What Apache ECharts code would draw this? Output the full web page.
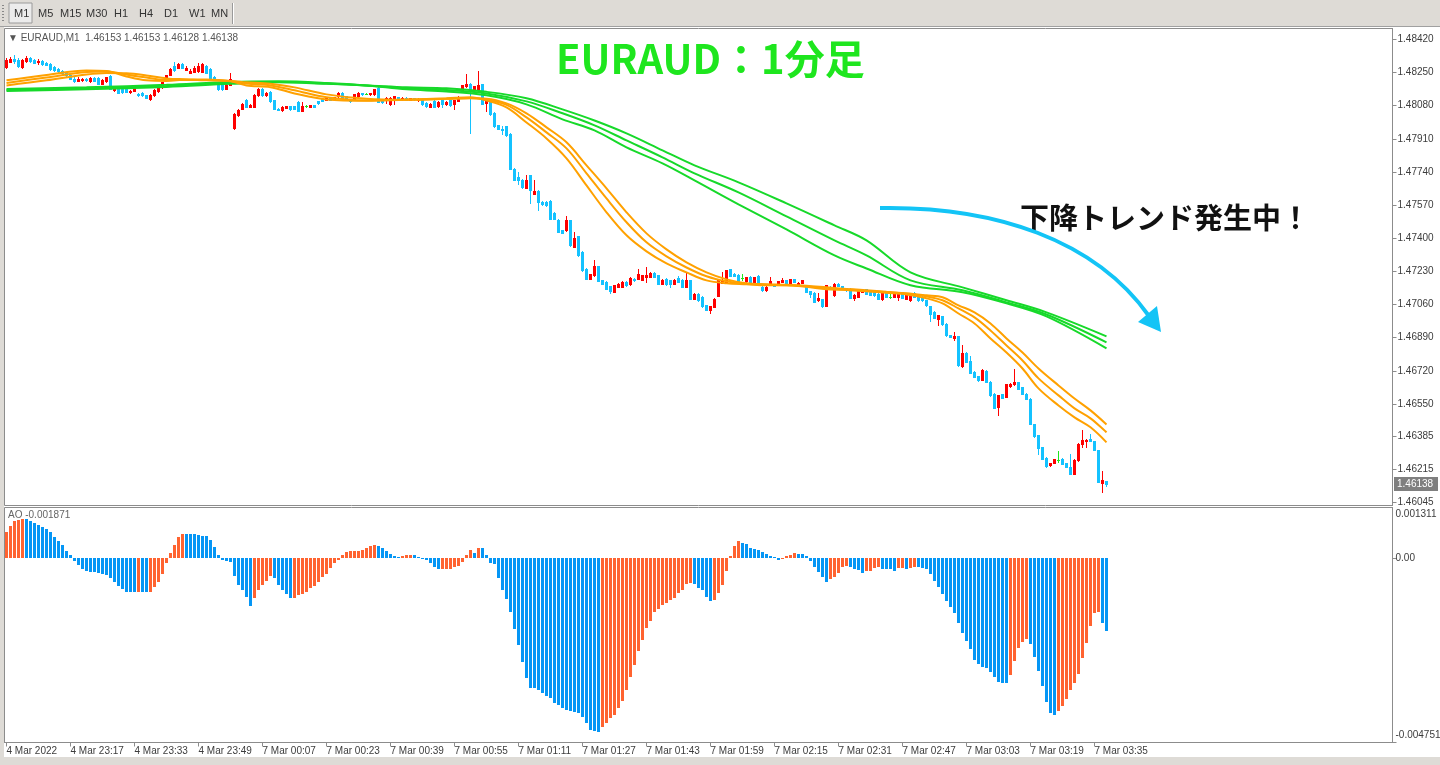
<!DOCTYPE html>
<html><head><meta charset="utf-8">
<script src="https://cdn.jsdelivr.net/npm/echarts@6/dist/echarts.min.js"></script>
<style>html,body{margin:0;padding:0;background:#fff;overflow:hidden}#c{width:1440px;height:765px}</style>
</head><body><div id="c"></div>
<script>
// ---------- DATA ----------
const symbolName = 'EURAUD,M1';
const sessionDays = ['4 Mar', '7 Mar'];
const sessionStartMinutes = [1381, 0];   // 23:01 and 00:00
const sessionBarCounts = [57, 219];
const firstDateLabel = '4 Mar 2022';

const opens = [
1.48278,1.48304,1.48317,1.48312,1.48278,1.48307,1.48324,1.48312,1.48304,1.48307,
1.48300,1.48292,1.48278,1.48266,1.48256,1.48246,1.48235,1.48218,1.48208,1.48210,
1.48218,1.48205,1.48222,1.48222,1.48191,1.48205,1.48232,1.48159,1.48176,1.48169,
1.48174,1.48150,1.48155,1.48141,1.48145,1.48133,1.48116,1.48133,1.48153,1.48174,
1.48210,1.48239,1.48283,1.48273,1.48292,1.48264,1.48249,1.48252,1.48256,1.48252,
1.48283,1.48270,1.48227,1.48193,1.48188,1.48167,1.48188,1.47965,1.48030,1.48064,
1.48107,1.48073,1.48073,1.48133,1.48167,1.48133,1.48150,1.48107,1.48064,1.48056,
1.48068,1.48077,1.48077,1.48099,1.48053,1.48077,1.48073,1.48082,1.48102,1.48116,
1.48111,1.48121,1.48112,1.48128,1.48147,1.48128,1.48111,1.48111,1.48128,1.48145,
1.48142,1.48138,1.48138,1.48172,1.48107,1.48107,1.48087,1.48116,1.48123,1.48112,
1.48120,1.48110,1.48118,1.48107,1.48107,1.48093,1.48073,1.48104,1.48077,1.48107,
1.48087,1.48107,1.48090,1.48104,1.48162,1.48179,1.48193,1.48159,1.48159,1.48189,
1.48093,1.48104,1.48042,1.47979,1.47962,1.47974,1.47936,1.47757,1.47714,1.47701,
1.47659,1.47722,1.47628,1.47642,1.47585,1.47585,1.47590,1.47528,1.47495,1.47440,
1.47440,1.47492,1.47355,1.47409,1.47329,1.47244,1.47193,1.47210,1.47256,1.47184,
1.47175,1.47153,1.47124,1.47150,1.47150,1.47175,1.47164,1.47193,1.47193,1.47188,
1.47202,1.47202,1.47222,1.47210,1.47167,1.47193,1.47184,1.47167,1.47198,1.47188,
1.47150,1.47184,1.47090,1.47115,1.47098,1.47056,1.47034,1.47047,1.47103,1.47172,
1.47175,1.47240,1.47218,1.47213,1.47196,1.47179,1.47201,1.47175,1.47206,1.47150,
1.47133,1.47162,1.47162,1.47172,1.47175,1.47184,1.47172,1.47189,1.47162,1.47172,
1.47155,1.47128,1.47121,1.47082,1.47086,1.47052,1.47150,1.47107,1.47167,1.47155,
1.47143,1.47141,1.47093,1.47098,1.47124,1.47138,1.47128,1.47128,1.47115,1.47090,
1.47128,1.47099,1.47099,1.47099,1.47124,1.47090,1.47082,1.47121,1.47110,1.47099,
1.47082,1.47051,1.47021,1.46987,1.47000,1.46962,1.46902,1.46890,1.46897,1.46743,
1.46811,1.46768,1.46713,1.46691,1.46674,1.46719,1.46665,1.46603,1.46534,1.46599,
1.46585,1.46640,1.46650,1.46662,1.46636,1.46603,1.46577,1.46445,1.46389,1.46329,
1.46274,1.46235,1.46247,1.46261,1.46269,1.46247,1.46226,1.46192,1.46261,1.46343,
1.46358,1.46372,1.46359,1.46312,1.46144,1.46153];

const closes = [
1.48312,1.48321,1.48309,1.48283,1.48312,1.48324,1.48307,1.48300,1.48309,1.48292,
1.48290,1.48266,1.48261,1.48256,1.48246,1.48235,1.48218,1.48205,1.48218,1.48218,
1.48211,1.48222,1.48208,1.48193,1.48211,1.48225,1.48167,1.48176,1.48145,1.48148,
1.48150,1.48155,1.48165,1.48133,1.48133,1.48121,1.48136,1.48162,1.48176,1.48200,
1.48235,1.48270,1.48261,1.48295,1.48275,1.48271,1.48260,1.48273,1.48283,1.48292,
1.48249,1.48218,1.48213,1.48164,1.48167,1.48188,1.48218,1.48039,1.48056,1.48090,
1.48073,1.48085,1.48136,1.48167,1.48133,1.48147,1.48102,1.48064,1.48059,1.48073,
1.48077,1.48061,1.48063,1.48053,1.48077,1.48077,1.48082,1.48073,1.48092,1.48104,
1.48121,1.48111,1.48123,1.48145,1.48121,1.48111,1.48104,1.48138,1.48145,1.48138,
1.48142,1.48145,1.48164,1.48098,1.48097,1.48118,1.48119,1.48128,1.48115,1.48120,
1.48110,1.48118,1.48112,1.48115,1.48087,1.48077,1.48090,1.48073,1.48099,1.48087,
1.48099,1.48082,1.48107,1.48124,1.48184,1.48193,1.48159,1.48179,1.48184,1.48090,
1.48104,1.48035,1.47974,1.47962,1.47957,1.47928,1.47757,1.47701,1.47701,1.47663,
1.47701,1.47649,1.47642,1.47585,1.47574,1.47569,1.47500,1.47500,1.47431,1.47426,
1.47492,1.47364,1.47403,1.47312,1.47236,1.47193,1.47215,1.47256,1.47180,1.47167,
1.47141,1.47129,1.47159,1.47164,1.47175,1.47159,1.47198,1.47184,1.47218,1.47210,
1.47210,1.47222,1.47202,1.47167,1.47188,1.47164,1.47164,1.47188,1.47175,1.47150,
1.47188,1.47090,1.47115,1.47082,1.47051,1.47034,1.47051,1.47090,1.47184,1.47179,
1.47236,1.47206,1.47206,1.47179,1.47196,1.47201,1.47175,1.47201,1.47175,1.47133,
1.47150,1.47179,1.47155,1.47179,1.47184,1.47172,1.47189,1.47175,1.47172,1.47184,
1.47124,1.47115,1.47073,1.47094,1.47052,1.47159,1.47145,1.47167,1.47155,1.47141,
1.47133,1.47093,1.47110,1.47133,1.47138,1.47115,1.47110,1.47107,1.47090,1.47121,
1.47099,1.47099,1.47115,1.47115,1.47093,1.47107,1.47110,1.47099,1.47082,1.47082,
1.47056,1.47013,1.46992,1.47005,1.46958,1.46902,1.46893,1.46897,1.46748,1.46811,
1.46765,1.46708,1.46688,1.46671,1.46723,1.46662,1.46594,1.46531,1.46594,1.46582,
1.46650,1.46654,1.46662,1.46628,1.46603,1.46577,1.46449,1.46384,1.46326,1.46269,
1.46230,1.46247,1.46266,1.46261,1.46243,1.46226,1.46192,1.46264,1.46346,1.46367,
1.46367,1.46359,1.46315,1.46149,1.46158,1.46138];

const lows = [
1.48274,1.48302,1.48297,1.48280,1.48274,1.48302,1.48302,1.48297,1.48292,1.48287,
1.48287,1.48261,1.48256,1.48251,1.48240,1.48230,1.48215,1.48200,1.48205,1.48205,
1.48207,1.48202,1.48205,1.48189,1.48189,1.48202,1.48164,1.48156,1.48143,1.48146,
1.48148,1.48146,1.48153,1.48130,1.48128,1.48118,1.48107,1.48130,1.48151,1.48171,
1.48207,1.48235,1.48258,1.48271,1.48271,1.48261,1.48248,1.48251,1.48253,1.48251,
1.48246,1.48215,1.48210,1.48159,1.48159,1.48164,1.48184,1.47963,1.48025,1.48061,
1.48071,1.48071,1.48071,1.48130,1.48130,1.48130,1.48097,1.48061,1.48056,1.48053,
1.48066,1.48056,1.48061,1.48051,1.48051,1.48071,1.48071,1.48071,1.48089,1.48102,
1.48107,1.48107,1.48110,1.48125,1.48118,1.48107,1.48100,1.48107,1.48125,1.48136,
1.48138,1.48136,1.48136,1.48097,1.48094,1.48092,1.48084,1.48087,1.48112,1.48110,
1.48107,1.48107,1.48110,1.48105,1.48084,1.48071,1.48071,1.48071,1.48074,1.48073,
1.48084,1.48079,1.48064,1.48102,1.48161,1.48176,1.47939,1.48156,1.48156,1.48087,
1.48053,1.48033,1.47971,1.47958,1.47933,1.47925,1.47754,1.47697,1.47680,1.47658,
1.47656,1.47580,1.47625,1.47543,1.47569,1.47564,1.47497,1.47497,1.47430,1.47425,
1.47438,1.47361,1.47353,1.47310,1.47233,1.47189,1.47189,1.47207,1.47179,1.47164,
1.47138,1.47117,1.47123,1.47148,1.47148,1.47156,1.47161,1.47182,1.47192,1.47187,
1.47175,1.47200,1.47200,1.47166,1.47166,1.47161,1.47148,1.47166,1.47174,1.47148,
1.47148,1.47089,1.47089,1.47079,1.47048,1.47030,1.47015,1.47046,1.47102,1.47171,
1.47174,1.47205,1.47205,1.47176,1.47184,1.47176,1.47174,1.47174,1.47174,1.47130,
1.47130,1.47159,1.47153,1.47169,1.47174,1.47169,1.47169,1.47174,1.47159,1.47171,
1.47123,1.47097,1.47071,1.47079,1.47048,1.47051,1.47143,1.47104,1.47153,1.47140,
1.47130,1.47092,1.47084,1.47097,1.47123,1.47114,1.47109,1.47104,1.47089,1.47082,
1.47097,1.47092,1.47097,1.47082,1.47092,1.47089,1.47079,1.47097,1.47079,1.47079,
1.47051,1.46975,1.46989,1.46953,1.46956,1.46899,1.46892,1.46879,1.46743,1.46740,
1.46764,1.46707,1.46686,1.46668,1.46671,1.46661,1.46591,1.46530,1.46492,1.46581,
1.46584,1.46637,1.46647,1.46627,1.46602,1.46576,1.46448,1.46382,1.46291,1.46268,
1.46227,1.46232,1.46245,1.46252,1.46242,1.46225,1.46191,1.46191,1.46258,1.46328,
1.46328,1.46358,1.46314,1.46148,1.46098,1.46128];

const highs = [
1.48323,1.48330,1.48338,1.48323,1.48317,1.48333,1.48330,1.48317,1.48317,1.48312,
1.48305,1.48297,1.48282,1.48271,1.48261,1.48251,1.48240,1.48225,1.48225,1.48220,
1.48222,1.48225,1.48225,1.48225,1.48215,1.48228,1.48235,1.48179,1.48179,1.48171,
1.48176,1.48159,1.48169,1.48143,1.48148,1.48135,1.48138,1.48164,1.48179,1.48202,
1.48238,1.48274,1.48304,1.48300,1.48297,1.48282,1.48266,1.48282,1.48300,1.48297,
1.48287,1.48271,1.48230,1.48194,1.48189,1.48189,1.48246,1.48041,1.48061,1.48092,
1.48112,1.48087,1.48138,1.48169,1.48169,1.48148,1.48153,1.48110,1.48066,1.48077,
1.48079,1.48079,1.48079,1.48102,1.48099,1.48082,1.48084,1.48084,1.48105,1.48118,
1.48123,1.48123,1.48125,1.48148,1.48151,1.48131,1.48112,1.48141,1.48148,1.48147,
1.48145,1.48147,1.48166,1.48174,1.48110,1.48123,1.48123,1.48131,1.48125,1.48123,
1.48123,1.48120,1.48120,1.48118,1.48110,1.48097,1.48092,1.48107,1.48102,1.48110,
1.48102,1.48110,1.48110,1.48128,1.48187,1.48241,1.48194,1.48182,1.48256,1.48192,
1.48107,1.48107,1.48046,1.47981,1.47974,1.47977,1.47938,1.47758,1.47739,1.47702,
1.47727,1.47725,1.47697,1.47646,1.47589,1.47589,1.47594,1.47533,1.47497,1.47443,
1.47512,1.47494,1.47431,1.47412,1.47333,1.47246,1.47217,1.47290,1.47258,1.47187,
1.47179,1.47156,1.47161,1.47169,1.47179,1.47179,1.47200,1.47195,1.47244,1.47213,
1.47251,1.47225,1.47225,1.47213,1.47189,1.47195,1.47187,1.47189,1.47205,1.47189,
1.47227,1.47187,1.47118,1.47118,1.47102,1.47059,1.47053,1.47092,1.47187,1.47227,
1.47238,1.47244,1.47220,1.47215,1.47217,1.47202,1.47205,1.47202,1.47210,1.47153,
1.47153,1.47200,1.47164,1.47181,1.47195,1.47187,1.47192,1.47192,1.47174,1.47187,
1.47159,1.47131,1.47123,1.47118,1.47089,1.47161,1.47153,1.47169,1.47169,1.47156,
1.47145,1.47143,1.47112,1.47135,1.47140,1.47140,1.47131,1.47131,1.47118,1.47123,
1.47131,1.47118,1.47118,1.47118,1.47125,1.47110,1.47112,1.47123,1.47112,1.47102,
1.47084,1.47053,1.47025,1.47007,1.47002,1.46963,1.46904,1.46919,1.46899,1.46851,
1.46815,1.46794,1.46717,1.46694,1.46728,1.46723,1.46668,1.46604,1.46597,1.46602,
1.46653,1.46658,1.46727,1.46663,1.46637,1.46604,1.46579,1.46448,1.46391,1.46330,
1.46276,1.46248,1.46268,1.46308,1.46271,1.46248,1.46295,1.46266,1.46348,1.46418,
1.46370,1.46394,1.46361,1.46315,1.46204,1.46153];

const aoValues = [
0.000668,0.000839,0.000950,0.000993,0.001027,0.001019,0.000967,0.000899,0.000865,0.000813,
0.000753,0.000668,0.000556,0.000454,0.000342,0.000197,0.000094,-0.000060,-0.000163,-0.000265,
-0.000317,-0.000342,-0.000347,-0.000385,-0.000394,-0.000419,-0.000514,-0.000616,-0.000702,-0.000788,
-0.000856,-0.000860,-0.000873,-0.000856,-0.000873,-0.000877,-0.000856,-0.000745,-0.000616,-0.000402,
-0.000128,0.000128,0.000351,0.000539,0.000633,0.000631,0.000628,0.000625,0.000599,0.000582,
0.000565,0.000462,0.000300,0.000086,-0.000034,-0.000068,-0.000086,-0.000445,-0.000676,-0.000830,
-0.001002,-0.001233,-0.001027,-0.000830,-0.000676,-0.000574,-0.000462,-0.000514,-0.000676,-0.000805,
-0.000933,-0.001027,-0.001023,-0.000959,-0.000916,-0.000856,-0.000770,-0.000702,-0.000599,-0.000488,
-0.000402,-0.000257,-0.000128,-0.000034,0.000094,0.000154,0.000180,0.000181,0.000184,0.000205,
0.000257,0.000308,0.000351,0.000325,0.000257,0.000180,0.000111,0.000068,0.000043,0.000068,
0.000094,0.000098,0.000094,0.000043,0.000009,-0.000043,-0.000120,-0.000214,-0.000283,-0.000278,
-0.000274,-0.000265,-0.000231,-0.000188,-0.000086,0.000094,0.000223,0.000146,0.000265,0.000260,
0.000094,-0.000120,-0.000154,-0.000514,-0.000830,-0.001061,-0.001387,-0.001832,-0.002243,-0.002671,
-0.003082,-0.003338,-0.003343,-0.003398,-0.003467,-0.003544,-0.003612,-0.003732,-0.003784,-0.003852,
-0.003903,-0.003929,-0.003955,-0.003981,-0.004083,-0.004237,-0.004426,-0.004443,-0.004468,-0.004340,
-0.004237,-0.004109,-0.004040,-0.003852,-0.003672,-0.003390,-0.003056,-0.002739,-0.002388,-0.002106,
-0.001798,-0.001618,-0.001387,-0.001310,-0.001198,-0.001156,-0.001070,-0.001027,-0.000899,-0.000805,
-0.000668,-0.000642,-0.000668,-0.000770,-0.000830,-0.001002,-0.001113,-0.001079,-0.000899,-0.000676,
-0.000334,0.000068,0.000325,0.000437,0.000394,0.000368,0.000274,0.000240,0.000223,0.000171,
0.000111,0.000068,0.000026,-0.000043,0.000017,0.000068,0.000094,0.000146,0.000120,0.000116,
0.000068,-0.000077,-0.000214,-0.000342,-0.000488,-0.000599,-0.000539,-0.000488,-0.000368,-0.000231,
-0.000188,-0.000214,-0.000265,-0.000308,-0.000368,-0.000334,-0.000317,-0.000240,-0.000231,-0.000265,
-0.000283,-0.000287,-0.000317,-0.000257,-0.000240,-0.000283,-0.000257,-0.000214,-0.000218,-0.000240,
-0.000265,-0.000394,-0.000574,-0.000745,-0.000908,-0.001113,-0.001267,-0.001421,-0.001678,-0.001926,
-0.002132,-0.002345,-0.002628,-0.002731,-0.002799,-0.002833,-0.002936,-0.003065,-0.003193,-0.003219,
-0.003223,-0.003013,-0.002645,-0.002320,-0.002157,-0.002089,-0.002217,-0.002551,-0.002902,-0.003296,
-0.003707,-0.003981,-0.004040,-0.003938,-0.003809,-0.003621,-0.003398,-0.003219,-0.002987,-0.002577,
-0.002183,-0.001755,-0.001412,-0.001387,-0.001669,-0.001871];

// moving averages read at sample bars
const orangeIdx = [0,10,20,25,30,35,40,45,50,56,60,66,72,80,90,100,110,116,120,125,130,135,140,145,150,155,160,165,170,175,180,185,190,195,200,205,210,215,220,225,230,234,238,242,246,250,254,258,263,267,271,275];
const orangeFast = [1.48210,1.48238,1.48261,1.48258,1.48230,1.48210,1.48207,1.48215,1.48215,1.48205,1.48184,1.48175,1.48143,1.48112,1.48105,1.48112,1.48118,1.48123,1.48107,1.48071,1.47994,1.47912,1.47810,1.47671,1.47533,1.47415,1.47333,1.47271,1.47225,1.47184,1.47169,1.47164,1.47159,1.47159,1.47151,1.47138,1.47135,1.47128,1.47120,1.47112,1.47092,1.47066,1.47014,1.46963,1.46886,1.46814,1.46732,1.46630,1.46542,1.46481,1.46430,1.46353];
const orangeMid = [1.48197,1.48225,1.48253,1.48256,1.48240,1.48225,1.48212,1.48212,1.48212,1.48207,1.48194,1.48184,1.48159,1.48123,1.48107,1.48110,1.48115,1.48120,1.48112,1.48084,1.48020,1.47943,1.47861,1.47733,1.47604,1.47482,1.47379,1.47307,1.47250,1.47205,1.47179,1.47166,1.47161,1.47159,1.47153,1.47143,1.47138,1.47130,1.47123,1.47115,1.47102,1.47082,1.47040,1.46994,1.46927,1.46850,1.46773,1.46681,1.46594,1.46527,1.46476,1.46404];
const orangeSlow = [1.48184,1.48210,1.48240,1.48248,1.48246,1.48235,1.48220,1.48215,1.48210,1.48207,1.48200,1.48193,1.48174,1.48138,1.48115,1.48110,1.48115,1.48118,1.48116,1.48092,1.48041,1.47969,1.47892,1.47774,1.47656,1.47533,1.47425,1.47343,1.47276,1.47225,1.47189,1.47169,1.47164,1.47161,1.47156,1.47148,1.47140,1.47133,1.47125,1.47118,1.47107,1.47097,1.47056,1.47020,1.46963,1.46886,1.46814,1.46732,1.46645,1.46578,1.46517,1.46445];
const greenIdx = [0,20,40,56,68,80,90,100,110,120,130,139,147,155,164,172,183,195,207,215,226,239,250,260,275];
const greenFast = [1.48166,1.48174,1.48187,1.48202,1.48205,1.48197,1.48184,1.48164,1.48153,1.48133,1.48087,1.48010,1.47953,1.47866,1.47784,1.47697,1.47574,1.47445,1.47312,1.47245,1.47159,1.47123,1.47066,1.46999,1.46835];
const greenMid = [1.48161,1.48169,1.48181,1.48197,1.48202,1.48194,1.48184,1.48169,1.48161,1.48143,1.48102,1.48041,1.47979,1.47902,1.47815,1.47733,1.47635,1.47512,1.47389,1.47312,1.47184,1.47133,1.47071,1.47009,1.46866];
const greenSlow = [1.48156,1.48164,1.48176,1.48192,1.48200,1.48192,1.48184,1.48174,1.48169,1.48151,1.48118,1.48061,1.48004,1.47938,1.47851,1.47774,1.47687,1.47579,1.47466,1.47389,1.47225,1.47148,1.47082,1.47020,1.46897];

const priceTickLabels = ['1.48420','1.48250','1.48080','1.47910','1.47740','1.47570','1.47400','1.47230','1.47060','1.46890','1.46720','1.46550','1.46385','1.46215','1.46045'];
const aoTickLabels = ['0.001311','0.00','-0.004751'];
const periodButtons = ['M1','M5','M15','M30','H1','H4','D1','W1','MN'];
const titleText = 'EURAUD：1分足';
const noteText = '下降トレンド発生中！';

// ---------- VIEW ----------
const SLOTS = 347;
const PRICE_MAX = 1.48476, PRICE_MIN = 1.46029;
const AO_MAX = 0.001311, AO_MIN = -0.004751;
const C_UP = '#ff0000', C_DN = '#14c2ff', C_DOJI = '#1ee61e';
const C_ORANGE = '#ffa100', C_GREEN = '#17d92a';
const AO_UP = '#ff6330', AO_DN = '#0596f5';
const AXIS_C = '#8c8c8c', TXT_C = '#3c3c3c';
const FONT = '"Liberation Sans", Arial, sans-serif';

const N = closes.length;
const pad2 = n => String(n).padStart(2, '0');
const categories = [];
sessionDays.forEach((d, s) => {
  for (let k = 0; k < sessionBarCounts[s]; k++) {
    const m = sessionStartMinutes[s] + k;
    categories.push(d + ' ' + pad2(Math.floor(m / 60)) + ':' + pad2(m % 60));
  }
});
while (categories.length < SLOTS) categories.push('_' + categories.length);

const candleData = opens.map((o, i) => [i, o, closes[i], lows[i], highs[i]]);
const aoData = aoValues.map((v, i) => [i, v, (i === 0 || v >= aoValues[i - 1]) ? 1 : 0]);
const pairs = (idx, vals) => idx.map((x, k) => [x, vals[k]]);
const priceTickValues = priceTickLabels.map(Number);
const aoPxPerUnit = 235 / (AO_MAX - AO_MIN);
const aoLabelSpots = [AO_MAX - 7 / aoPxPerUnit, 0, AO_MIN + 7 / aoPxPerUnit];
const last = N - 1;
const hdr = symbolName + '  ' + [opens[last], highs[last], lows[last], closes[last]].map(v => v.toFixed(5)).join(' ');

function renderCandle(params, api) {
  const i = api.value(0), o = api.value(1), c = api.value(2), l = api.value(3), h = api.value(4);
  const po = api.coord([i, o]), pc = api.coord([i, c]), pl = api.coord([i, l]), ph = api.coord([i, h]);
  const cx = Math.floor(po[0]);
  const col = c > o ? C_UP : (c < o ? C_DN : C_DOJI);
  const yt = Math.round(Math.min(po[1], pc[1])), yb = Math.round(Math.max(po[1], pc[1]));
  const yh = Math.round(ph[1]), yl = Math.round(pl[1]);
  return { type: 'group', children: [
    { type: 'rect', shape: { x: cx, y: yh, width: 1, height: Math.max(1, yl - yh + 1) }, style: { fill: col } },
    { type: 'rect', shape: { x: cx - 1, y: yt, width: 3, height: Math.max(1, yb - yt + 1) }, style: { fill: col } }
  ] };
}
function renderAO(params, api) {
  const i = api.value(0), v = api.value(1), up = api.value(2);
  const p0 = api.coord([i, 0]), p1 = api.coord([i, v]);
  const cx = Math.floor(p0[0]);
  const y0 = Math.round(p0[1]), y1 = Math.round(p1[1]);
  return { type: 'rect', shape: { x: cx - 1, y: Math.min(y0, y1), width: 3, height: Math.max(1, Math.abs(y1 - y0)) },
    style: { fill: up ? AO_UP : AO_DN } };
}
function maLine(name, idx, vals, color, z) {
  return {
    name, type: 'line', xAxisIndex: 0, yAxisIndex: 0, data: pairs(idx, vals),
    showSymbol: false, smooth: 0.35, silent: true, z,
    lineStyle: { color, width: 2 }
  };
}

const toolbarEls = [
  { type: 'rect', shape: { x: 0, y: 0, width: 1440, height: 27 }, style: { fill: '#dedbd6' }, silent: true },
  { type: 'rect', shape: { x: 0, y: 26, width: 1440, height: 1 }, style: { fill: '#a0a0a0' }, silent: true },
  { type: 'rect', shape: { x: 0, y: 27, width: 4, height: 738 }, style: { fill: '#dedbd6' }, silent: true },
  { type: 'rect', shape: { x: 0, y: 757, width: 1440, height: 8 }, style: { fill: '#dedbd6' }, silent: true },
  { type: 'rect', shape: { x: 9, y: 3, width: 23, height: 20 }, style: { fill: '#ececec', stroke: '#9a9a9a', lineWidth: 1 }, silent: true },
  { type: 'rect', shape: { x: 232, y: 3, width: 1, height: 21 }, style: { fill: '#9a9a9a' }, silent: true },
  { type: 'rect', shape: { x: 233, y: 3, width: 1, height: 21 }, style: { fill: '#ffffff' }, silent: true }
];
for (let k = 0; k < 6; k++) {
  toolbarEls.push({ type: 'rect', shape: { x: 2, y: 5 + k * 3, width: 2, height: 1 }, style: { fill: '#888' }, silent: true });
}
const btnX = [14, 38, 60, 86, 114, 139, 164, 189, 211];
periodButtons.forEach((b, k) => {
  toolbarEls.push({ type: 'text', x: btnX[k], y: 14, style: { text: b, fill: '#333', font: '11px ' + FONT, verticalAlign: 'middle' }, silent: true });
});

const baseGraphics = toolbarEls.concat([
  { type: 'text', x: 8, y: 38, style: { text: '▼ ' + hdr, fill: '#555', font: '10px ' + FONT, verticalAlign: 'middle' }, silent: true },
  { type: 'text', x: 8, y: 515, style: { text: 'AO ' + aoValues[last].toFixed(6), fill: '#666', font: '10px ' + FONT, verticalAlign: 'middle' }, silent: true },
  { type: 'text', x: 556, y: 59, style: { text: titleText, fill: '#1ee61e', font: 'bold 40px "Noto Sans CJK JP", sans-serif', verticalAlign: 'middle' }, silent: true },
  { type: 'text', x: 1020, y: 218, style: { text: noteText, fill: '#111', font: 'bold 29px "Noto Sans CJK JP", sans-serif', verticalAlign: 'middle' }, silent: true },
  { type: 'bezierCurve', shape: { x1: 880, y1: 208, cpx1: 995, cpy1: 206, cpx2: 1095, cpy2: 240, x2: 1149, y2: 316 },
    style: { stroke: '#13c4f6', lineWidth: 4, fill: null }, silent: true },
  { type: 'polygon', shape: { points: [[1161, 332], [1138, 322], [1157, 306]] }, style: { fill: '#13c4f6' }, silent: true }
]);

const option = {
  animation: false,
  backgroundColor: '#ffffff',
  grid: [
    { left: 4.5, top: 28.5, width: 1388, height: 477, show: true, borderColor: AXIS_C, borderWidth: 1, backgroundColor: '#fff', outerBoundsMode: 'none', containLabel: false },
    { left: 4.5, top: 507.5, width: 1388, height: 235, show: true, borderColor: AXIS_C, borderWidth: 1, backgroundColor: '#fff', outerBoundsMode: 'none', containLabel: false }
  ],
  xAxis: [
    { type: 'category', gridIndex: 0, data: categories, boundaryGap: true,
      axisLine: { show: false }, axisTick: { show: false }, axisLabel: { show: false }, splitLine: { show: false } },
    { type: 'category', gridIndex: 1, data: categories, boundaryGap: true, position: 'bottom',
      axisLine: { show: true, onZero: false, lineStyle: { color: AXIS_C } },
      axisTick: { show: true, alignWithLabel: true, length: 4, interval: i => i < N && i % 16 === 0, lineStyle: { color: AXIS_C } },
      axisLabel: { show: true, interval: i => i < N && i % 16 === 0, align: 'left', margin: 4,
        formatter: (v, i) => i === 0 ? firstDateLabel : v, color: TXT_C, fontSize: 10, fontFamily: FONT },
      splitLine: { show: false } }
  ],
  yAxis: [
    { type: 'value', gridIndex: 0, position: 'right', min: PRICE_MIN, max: PRICE_MAX,
      axisLine: { show: true, lineStyle: { color: AXIS_C } },
      axisTick: { show: true, length: 4, customValues: priceTickValues, lineStyle: { color: AXIS_C } },
      axisLabel: { show: true, customValues: priceTickValues, formatter: v => v.toFixed(5), margin: 5,
        color: TXT_C, fontSize: 10, fontFamily: FONT },
      splitLine: { show: false } },
    { type: 'value', gridIndex: 1, position: 'right', min: AO_MIN, max: AO_MAX,
      axisLine: { show: true, lineStyle: { color: AXIS_C } },
      axisTick: { show: true, length: 4, customValues: [0, AO_MIN], lineStyle: { color: AXIS_C } },
      axisLabel: { show: true, customValues: aoLabelSpots, margin: 3, color: TXT_C, fontSize: 10, fontFamily: FONT,
        formatter: v => v > AO_MAX / 2 ? aoTickLabels[0] : (v < AO_MIN / 2 ? aoTickLabels[2] : aoTickLabels[1]) },
      splitLine: { show: false } }
  ],
  series: [
    { name: 'price', type: 'custom', xAxisIndex: 0, yAxisIndex: 0, data: candleData, z: 2, silent: true,
      encode: { x: 0, y: [1, 2, 3, 4] }, renderItem: renderCandle },
    maLine('g3', greenIdx, greenSlow, C_GREEN, 3),
    maLine('g2', greenIdx, greenMid, C_GREEN, 3),
    maLine('g1', greenIdx, greenFast, C_GREEN, 3),
    maLine('o3', orangeIdx, orangeSlow, C_ORANGE, 4),
    maLine('o2', orangeIdx, orangeMid, C_ORANGE, 4),
    maLine('o1', orangeIdx, orangeFast, C_ORANGE, 4),
    { name: 'AO', type: 'custom', xAxisIndex: 1, yAxisIndex: 1, data: aoData, silent: true,
      encode: { x: 0, y: 1 }, renderItem: renderAO }
  ],
  graphic: baseGraphics
};
const chart = echarts.init(document.getElementById('c'));
chart.setOption(option);
// current-price tag, positioned through the price axis scale
const tagY = chart.convertToPixel({ yAxisIndex: 0 }, closes[last]);
chart.setOption({ graphic: baseGraphics.concat([
  { type: 'rect', shape: { x: 1394, y: Math.round(tagY) - 7, width: 44, height: 14 }, style: { fill: '#7f7f7f' }, silent: true, z: 50 },
  { type: 'text', x: 1397, y: Math.round(tagY), style: { text: closes[last].toFixed(5), fill: '#ffffff', font: '10px ' + FONT, verticalAlign: 'middle' }, silent: true, z: 51 }
]) });
</script>
</body></html>
